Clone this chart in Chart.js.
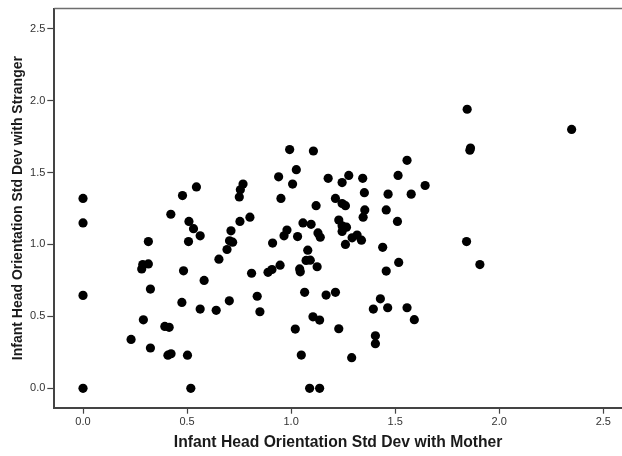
<!DOCTYPE html>
<html>
<head>
<meta charset="utf-8">
<script src="https://cdn.jsdelivr.net/npm/chart.js@4"></script>
<style>
  html, body { margin: 0; padding: 0; background: #fff; overflow: hidden; }
  #wrap { width: 622px; height: 456px; position: relative; }
</style>
</head>
<body>
<div id="wrap"><canvas id="scatterChart"></canvas></div>
<script>
// Infant head orientation std dev: with mother (x) vs with stranger (y)
const motherSD = [
  0, 0, 0, 0, 0.231, 0.282, 0.287, 0.314, 0.314, 0.324,
  0.29, 0.324, 0.393, 0.414, 0.408, 0.423, 0.422, 0.478, 0.545, 0.509,
  0.531, 0.507, 0.563, 0.483, 0.475, 0.502, 0.518, 0.582, 0.563, 0.64,
  0.653, 0.692, 0.711, 0.704, 0.719, 0.703, 0.751, 0.756, 0.769, 0.754,
  0.802, 0.81, 0.837, 0.85, 0.889, 0.908, 0.911, 0.947, 0.94, 0.951,
  0.966, 0.98, 0.993, 1.007, 1.025, 1.031, 1.057, 1.096, 1.107, 1.12,
  1.129, 1.14, 1.08, 1.072, 1.092, 1.041, 1.044, 1.125, 1.065, 1.105,
  1.137, 1.02, 1.049, 1.089, 1.137, 1.168, 1.213, 1.229, 1.291, 1.178,
  1.213, 1.229, 1.245, 1.245, 1.261, 1.245, 1.266, 1.245, 1.261, 1.277,
  1.293, 1.317, 1.338, 1.344, 1.352, 1.354, 1.346, 1.44, 1.457, 1.466,
  1.511, 1.514, 1.557, 1.577, 1.644, 1.517, 1.457, 1.429, 1.395, 1.464,
  1.557, 1.592, 1.405, 1.405, 1.843, 1.907, 1.846, 1.862, 1.859, 2.348
];
const strangerSD = [
  1.32, 1.15, 0.646, 0, 0.34, 0.83, 0.86, 0.865, 1.02, 0.69,
  0.476, 0.28, 0.43, 0.424, 0.23, 0.24, 1.21, 1.34, 1.40, 1.16,
  1.11, 1.02, 1.06, 0.817, 0.597, 0.23, 0, 0.75, 0.551, 0.542,
  0.898, 0.965, 1.095, 1.025, 1.016, 0.608, 1.33, 1.38, 1.42, 1.16,
  1.19, 0.80, 0.64, 0.532, 0.806, 0.826, 1.01, 0.856, 1.47, 1.32,
  1.06, 1.10, 1.66, 1.42, 1.52, 1.055, 1.15, 1.14, 1.65, 1.27,
  1.08, 1.05, 0.96, 0.889, 0.891, 0.83, 0.81, 0.845, 0.667, 0.497,
  0.474, 0.412, 0.231, 0, 0, 0.648, 0.667, 0.414, 0.213, 1.46,
  1.32, 1.17, 1.43, 1.285, 1.27, 1.13, 1.12, 1.09, 1.00, 1.48,
  1.046, 1.065, 1.03, 1.46, 1.36, 1.24, 1.19, 0.98, 1.24, 1.35,
  1.16, 1.48, 1.585, 1.35, 1.41, 0.875, 0.815, 0.622, 0.551, 0.56,
  0.56, 0.477, 0.365, 0.31, 1.02, 0.86, 1.94, 1.67, 1.655, 1.80
];
const xTicks = [0, 0.5, 1.0, 1.5, 2.0, 2.5];
const yTicks = [0, 0.5, 1.0, 1.5, 2.0, 2.5];
const xTitle = 'Infant Head Orientation Std Dev with Mother';
const yTitle = 'Infant Head Orientation Std Dev with Stranger';

const tickFont = { family: 'Liberation Sans, Arial, sans-serif', size: 11 };

// top edge of the plot frame (no right edge in the original)
const frameTop = {
  id: 'frameTop',
  afterDraw(chart) {
    const { ctx, chartArea } = chart;
    ctx.save();
    ctx.strokeStyle = '#6e6e6e';
    ctx.lineWidth = 1.5;
    ctx.beginPath();
    ctx.moveTo(chartArea.left, chartArea.top);
    ctx.lineTo(chartArea.right, chartArea.top);
    ctx.stroke();
    ctx.restore();
  }
};

const points = motherSD.map((x, i) => ({ x, y: strangerSD[i] }));

new Chart(document.getElementById('scatterChart'), {
  type: 'scatter',
  data: {
    datasets: [{
      data: points,
      backgroundColor: '#000',
      borderColor: '#000',
      borderWidth: 0,
      pointRadius: 4.6
    }]
  },
  options: {
    responsive: true,
    maintainAspectRatio: false,
    animation: false,
    layout: { autoPadding: false, padding: { top: 8, right: 0, left: 0, bottom: 0 } },
    plugins: {
      legend: { display: false },
      tooltip: { enabled: false }
    },
    scales: {
      x: {
        type: 'linear',
        min: -0.138,
        max: 2.59,
        afterBuildTicks: scale => { scale.ticks = xTicks.map(v => ({ value: v })); },
        afterFit: scale => {
          scale.height = 48.3;
          scale.paddingLeft = 0;
          scale.paddingRight = 0;
        },
        ticks: {
          color: '#333',
          font: tickFont,
          padding: 2,
          maxRotation: 0,
          callback: v => Number(v).toFixed(1)
        },
        grid: { drawOnChartArea: false, tickLength: 6, tickColor: '#444', tickWidth: 1.2 },
        border: { display: true, color: '#444', width: 2 },
        title: {
          display: true,
          text: xTitle,
          color: '#1a1a1a',
          font: { family: 'Liberation Sans, Arial, sans-serif', size: 15.7, weight: 'bold' },
          padding: { top: 0, bottom: 4 }
        }
      },
      y: {
        type: 'linear',
        min: -0.135,
        max: 2.64,
        afterBuildTicks: scale => { scale.ticks = yTicks.map(v => ({ value: v })); },
        afterFit: scale => {
          scale.width = 54.3;
        },
        ticks: {
          color: '#333',
          font: tickFont,
          padding: 2,
          callback: v => Number(v).toFixed(1)
        },
        grid: { drawOnChartArea: false, tickLength: 7, tickColor: '#444', tickWidth: 1.2 },
        border: { display: true, color: '#444', width: 2 },
        title: {
          display: true,
          text: yTitle,
          color: '#1a1a1a',
          font: { family: 'Liberation Sans, Arial, sans-serif', size: 14, weight: 'bold' },
          padding: { top: 10, bottom: 0 }
        }
      }
    }
  },
  plugins: [frameTop]
});
</script>
</body>
</html>
